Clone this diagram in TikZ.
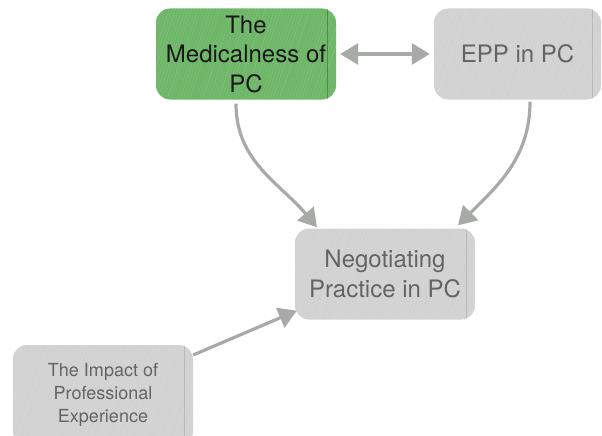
\documentclass[tikz,border=0pt]{standalone}
\usepackage{fontspec}
\setmainfont{TeX Gyre Heros}
\usetikzlibrary{arrows.meta}
\definecolor{boxgreen}{RGB}{110,182,104}
\definecolor{greenline}{RGB}{70,145,70}
\definecolor{boxgrey}{RGB}{210,210,210}
\definecolor{greyline}{RGB}{185,185,185}
\definecolor{greytext}{RGB}{100,100,100}
\definecolor{arrowgrey}{RGB}{168,170,168}
\tikzset{
  streaks/.style={
    path picture={
      \foreach \k in {0,...,70}{
        \pgfmathsetmacro{\op}{0.05+0.12*rnd}
        \draw[white, opacity=\op, line width=0.5pt]
          ([xshift=\k*3.2pt-40pt]path picture bounding box.south west) -- ++(34pt,100pt);
      }
      \draw[#1, line width=0.7pt]
        ([xshift=-9pt]path picture bounding box.north east) --
        ([xshift=-9pt]path picture bounding box.south east);
    }},
  box/.style={rectangle, rounded corners=14pt, inner sep=0pt, align=center,
    minimum height=91pt, font=\fontsize{24}{29.5}\selectfont},
  greenbox/.style={box, fill=boxgreen, text=black!90, streaks=greenline},
  greybox/.style={box, fill=boxgrey, text=greytext, streaks=greyline},
  conn/.style={draw=arrowgrey, line width=3.2pt,
    -{Triangle[length=18pt,width=21pt]}},
  biconn/.style={draw=arrowgrey, line width=3.2pt,
    {Triangle[length=18pt,width=21pt]}-{Triangle[length=18pt,width=21pt]}}
}
\begin{document}
\begin{tikzpicture}[x=1pt,y=-1pt]
\useasboundingbox (0,0) rectangle (602,436);
\node[greenbox, minimum width=180pt] (med) at (246,54) {The\\Medicalness of\\PC};
\node[greybox, minimum width=167pt] (epp) at (517.5,54) {EPP in PC};
\node[greybox, minimum width=180pt] (neg) at (385,274) {Negotiating\\Practice in PC};
\node[greybox, minimum width=180pt, minimum height=100pt,
  font=\fontsize{18}{23}\selectfont] (imp) at (103,395) {The Impact of\\Professional\\Experience};
\draw[biconn] ([xshift=4pt]med.east) -- ([xshift=-4pt]epp.west);
\draw[conn] ([xshift=-10pt,yshift=-4pt]med.south) to[out=-90,in=130] ([xshift=-68pt,yshift=1pt]neg.north);
\draw[conn] ([xshift=12.5pt,yshift=-2pt]epp.south) to[out=-90,in=45] ([xshift=73pt,yshift=3pt]neg.north);
\draw[conn] ([yshift=40pt]imp.east) -- ([xshift=2pt,yshift=9pt]neg.south west);
\end{tikzpicture}
\end{document}
